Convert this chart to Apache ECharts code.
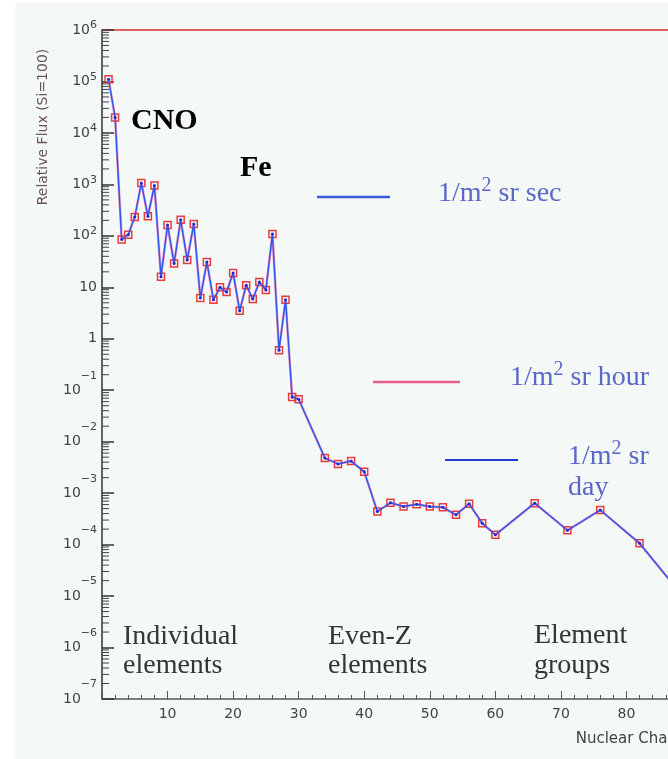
<!DOCTYPE html>
<html><head><meta charset="utf-8">
<script src="https://cdn.jsdelivr.net/npm/echarts@6/dist/echarts.min.js"></script>
<style>html,body{margin:0;padding:0;background:#fff;overflow:hidden;width:668px;height:759px}#c{width:710px;height:759px}</style>
</head><body><div id="c"></div>
<script>
// Nuclear charge Z of each plotted point
const charge = [1,2,3,4,5,6,7,8,9,10,11,12,13,14,15,16,17,18,19,20,21,22,23,24,25,26,27,28,29,30,
  34,36,38,40,42,44,46,48,50,52,54,56,58,60,66,71,76,82,90];
// Relative flux (Si = 100)
const flux = [1.1e5,2.0e4,85,105,232,1060,240,950,16,163,29,205,34,170,6.2,31,5.7,10,8.1,19,3.5,11,5.9,12.7,8.9,109,0.6,5.7,0.074,0.067,
  0.0048,0.0037,0.0042,0.0026,0.00044,0.00065,0.00055,0.00061,0.00055,0.00053,0.00038,0.00062,0.00026,0.000155,0.00064,0.00019,0.00047,0.000106,6e-6];
// Tick labels
const xTickLabels = [10,20,30,40,50,60,70,80];
const yDecadeExponents = [-7,-6,-5,-4,-3,-2,-1,0,1,2,3,4,5,6];
const minorMultipliers = [2,3,4,5,6,7,8,9];

const pts = charge.map((z,i)=>[z, flux[i]]);
const yMinor = [];
yDecadeExponents.slice(0,-1).forEach(e => minorMultipliers.forEach(m => yMinor.push([0, m*Math.pow(10,e)])));

const serif = '"Liberation Serif", "Times New Roman", serif';
const sans = '"DejaVu Sans", sans-serif';
const textCol = '#2e3838';
const blueTxt = '#5a66c8';

function unitText(x, y, rest){
  return {type:'text', x:x, y:y, style:{
    text:'{a|1/m}{s|2}{a|' + rest + '}',
    fill:blueTxt, verticalAlign:'middle',
    rich:{
      a:{font:'28px "Liberation Serif"', fill:blueTxt, lineHeight:32, verticalAlign:'bottom'},
      s:{font:'20px "Liberation Serif"', fill:blueTxt, lineHeight:20, verticalAlign:'top'}
    }}};
}

const chart = echarts.init(document.getElementById('c'), null, {renderer:'canvas'});
chart.setOption({
  backgroundColor:'#ffffff',
  animation:false,
  grid:{left:102, top:30, width:590, height:669, containLabel:false},
  xAxis:[{
    type:'value', min:0, max:90, interval:10,
    axisLine:{show:true, lineStyle:{color:'#555', width:1.5}},
    axisTick:{show:true, inside:true, length:8, lineStyle:{color:'#4a5a5a'}},
    minorTick:{show:true, splitNumber:5, length:4, lineStyle:{color:'#4a5a5a'}},
    splitLine:{show:false},
    axisLabel:{showMinLabel:false, margin:8, color:'#3c4646', fontFamily:sans, fontSize:14,
      formatter:v => xTickLabels.indexOf(v) >= 0 ? String(v) : ''},
    name:'Nuclear Charge', nameLocation:'end', nameGap:0,
    nameTextStyle:{align:'right', verticalAlign:'top', padding:[33,0,0,0], color:'#3c4646', fontFamily:sans, fontSize:15}
  },{
    type:'value', position:'top', min:0, max:90,
    axisLine:{show:true, lineStyle:{color:'#e06060', width:2}},
    axisTick:{show:false}, axisLabel:{show:false}, splitLine:{show:false}
  }],
  yAxis:{
    type:'log', logBase:10, min:1e-7, max:1e6, interval:1,
    axisLine:{show:true, lineStyle:{color:'#333', width:1.5}},
    axisTick:{show:true, inside:true, length:12, lineStyle:{color:'#333', width:1.5}},
    splitLine:{show:false},
    axisLabel:{margin:5, fontFamily:sans, color:'#3c4646',
      formatter:v => {
        const e = Math.round(Math.log10(v));
        if (e === 0) return '{bp|1}';
        if (e === 1) return '{bp|10}';
        if (e > 0) return '{bp|10}{sp|' + e + '}';
        return '{bn|10}{sn|\u2212' + (-e) + '}';
      },
      rich:{
        bp:{fontSize:14, fontFamily:sans, color:'#3c4646', lineHeight:20, verticalAlign:'middle'},
        sp:{fontSize:11, fontFamily:sans, color:'#3c4646', lineHeight:12, verticalAlign:'top'},
        bn:{fontSize:14, fontFamily:sans, color:'#3c4646', lineHeight:40, verticalAlign:'middle'},
        sn:{fontSize:11, fontFamily:sans, color:'#3c4646', lineHeight:12, verticalAlign:'top'}
      }
    }
  },
  series:[
    {type:'custom', coordinateSystem:'cartesian2d', data:yMinor, silent:true, clip:false, z:1,
      renderItem:(params, api) => {
        const p = api.coord([api.value(0), api.value(1)]);
        return {type:'line', shape:{x1:p[0], y1:p[1], x2:p[0]+7, y2:p[1]}, style:{stroke:'#3c4646', lineWidth:1}};
      }},
    {type:'line', data:pts, showSymbol:false, symbol:'none', z:2,
      lineStyle:{color:'#f4a6cc', width:2.6}},
    {type:'line', data:pts, symbol:'rect', symbolSize:7, z:3,
      lineStyle:{width:0, opacity:0},
      itemStyle:{color:'rgba(0,0,0,0)', borderColor:'#e83c3c', borderWidth:1.5}},
    {type:'line', data:pts, symbol:'circle', symbolSize:3, z:4,
      lineStyle:{color:'#2f55ea', width:1.5},
      itemStyle:{color:'#1a2ad0'}}
  ],
  graphic:[
    {type:'rect', z:-100, shape:{x:15, y:3, width:700, height:756}, style:{fill:'#f4f8f7'}},
    {type:'text', x:43, y:127, rotation:Math.PI/2, style:{text:'Relative Flux (Si=100)', font:'14px "DejaVu Sans"', fill:'#6b5555', align:'center', verticalAlign:'middle'}},
    {type:'text', x:131, y:121, style:{text:'CNO', font:'bold 30px "Liberation Serif"', fill:'#000', verticalAlign:'middle'}},
    {type:'text', x:240, y:168, style:{text:'Fe', font:'bold 30px "Liberation Serif"', fill:'#000', verticalAlign:'middle'}},
    {type:'line', shape:{x1:317, y1:197, x2:390, y2:197}, style:{stroke:'#3b5bdb', lineWidth:2.5}},
    unitText(438, 192, ' sr sec'),
    {type:'line', shape:{x1:373, y1:382, x2:460, y2:382}, style:{stroke:'#e8608a', lineWidth:2.5}},
    unitText(510, 376, ' sr hour'),
    {type:'line', shape:{x1:445, y1:460, x2:518, y2:460}, style:{stroke:'#2638d0', lineWidth:2}},
    unitText(568, 455, ' sr'),
    {type:'text', x:568, y:488, style:{text:'day', font:'28px "Liberation Serif"', fill:blueTxt, verticalAlign:'middle'}},
    {type:'text', x:123, y:637, style:{text:'Individual', font:'28px "Liberation Serif"', fill:textCol, verticalAlign:'middle'}},
    {type:'text', x:123, y:666, style:{text:'elements', font:'28px "Liberation Serif"', fill:textCol, verticalAlign:'middle'}},
    {type:'text', x:328, y:637, style:{text:'Even-Z', font:'28px "Liberation Serif"', fill:textCol, verticalAlign:'middle'}},
    {type:'text', x:328, y:666, style:{text:'elements', font:'28px "Liberation Serif"', fill:textCol, verticalAlign:'middle'}},
    {type:'text', x:534, y:636, style:{text:'Element', font:'28px "Liberation Serif"', fill:textCol, verticalAlign:'middle'}},
    {type:'text', x:534, y:666, style:{text:'groups', font:'28px "Liberation Serif"', fill:textCol, verticalAlign:'middle'}}
  ]
});
</script>
</body></html>
